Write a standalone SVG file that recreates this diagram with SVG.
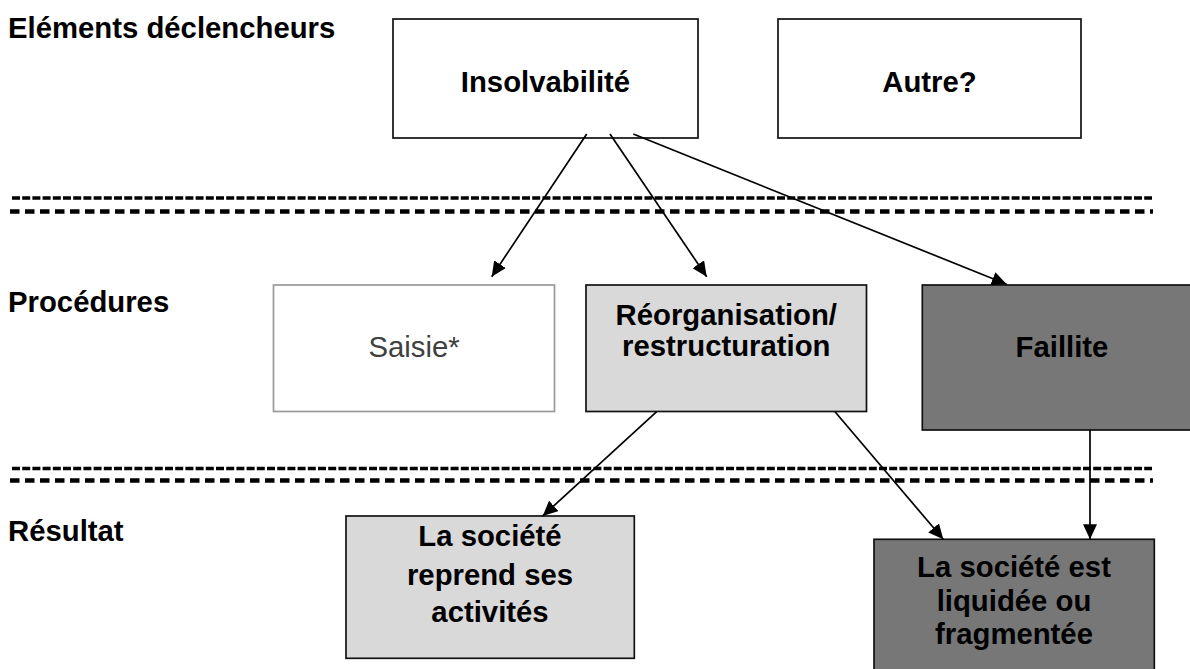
<svg xmlns="http://www.w3.org/2000/svg" width="1190" height="669" viewBox="0 0 1190 669">
  <style>
    text { font-family: "Liberation Sans", Arial, sans-serif; font-size: 29.3px; fill: #000; }
    .b { font-weight: bold; }
    .lbl { font-weight: bold; }
    .c { text-anchor: middle; }
    .box { stroke: #111; stroke-width: 1.7; }
    .white { fill: #fff; }
    .light { fill: #d9d9d9; }
    .dark { fill: #777; }
    .faint { fill: #fff; stroke: #999; stroke-width: 1.7; }
    .conn { stroke: #000; stroke-width: 1.7; fill: none; marker-end: url(#ah); }
    .sepA { stroke: #000; stroke-width: 3.6; stroke-dasharray: 8 2.2; fill: none; }
    .sepB { stroke: #000; stroke-width: 4.4; stroke-dasharray: 9.5 5.5; fill: none; }
  </style>
  <defs>
    <marker id="ah" markerUnits="userSpaceOnUse" viewBox="0 0 15 14" markerWidth="15" markerHeight="14" refX="15" refY="7" orient="auto">
      <path d="M0,0 L15,7 L0,14 Z" fill="#000"/>
    </marker>
  </defs>
  <rect width="1190" height="669" fill="#fff"/>

  <!-- row labels -->
  <g id="labels">
    <text class="lbl" x="8" y="38">Eléments déclencheurs</text>
    <text class="lbl" x="8" y="312">Procédures</text>
    <text class="lbl" x="8" y="541">Résultat</text>
  </g>

  <!-- separators between the rows -->
  <g id="separators">
    <line class="sepA" x1="12" y1="198" x2="1152" y2="198"/>
    <line class="sepB" x1="10" y1="211.5" x2="1153" y2="211.5"/>
    <line class="sepA" x1="12" y1="468.5" x2="1152" y2="468.5"/>
    <line class="sepB" x1="10" y1="480.5" x2="1153" y2="480.5"/>
  </g>

  <g id="insolvabilite">
    <rect class="box white" x="393" y="19" width="305" height="119"/>
    <text class="b c" x="545.5" y="92">Insolvabilité</text>
  </g>

  <g id="autre">
    <rect class="box white" x="778" y="19" width="303" height="119"/>
    <text class="b c" x="929.5" y="92">Autre?</text>
  </g>

  <g id="saisie">
    <rect class="faint" x="273.5" y="285" width="281" height="126.5"/>
    <text class="c" x="414" y="357" style="fill:#404040">Saisie*</text>
  </g>

  <g id="reorganisation">
    <rect class="box light" x="586" y="285" width="280.5" height="126.5"/>
    <text class="b c" x="726.3" y="325">Réorganisation/</text>
    <text class="b c" x="726.3" y="356">restructuration</text>
  </g>

  <g id="faillite">
    <rect class="box dark" x="922.3" y="285" width="280" height="145"/>
    <text class="b c" x="1062" y="357">Faillite</text>
  </g>

  <g id="reprise">
    <rect class="box light" x="346" y="516" width="288.3" height="142.3"/>
    <text class="b c" x="490" y="546">La société</text>
    <text class="b c" x="490" y="585">reprend ses</text>
    <text class="b c" x="490" y="622">activités</text>
  </g>

  <g id="liquidation">
    <rect class="box dark" x="874" y="539.3" width="280.3" height="145"/>
    <text class="b c" x="1014" y="577">La société est</text>
    <text class="b c" x="1014" y="611">liquidée ou</text>
    <text class="b c" x="1014" y="644">fragmentée</text>
  </g>

  <!-- connectors -->
  <g id="connectors">
    <line class="conn" x1="586.7" y1="134" x2="491.7" y2="276.7"/>
    <line class="conn" x1="610" y1="134" x2="706.7" y2="276.7"/>
    <line class="conn" x1="633.3" y1="134" x2="1006.7" y2="284.3"/>
    <line class="conn" x1="656.7" y1="411.7" x2="542.7" y2="516"/>
    <line class="conn" x1="835" y1="411.7" x2="943.3" y2="539.3"/>
    <line class="conn" x1="1090" y1="430" x2="1090" y2="539.3"/>
  </g>
</svg>
